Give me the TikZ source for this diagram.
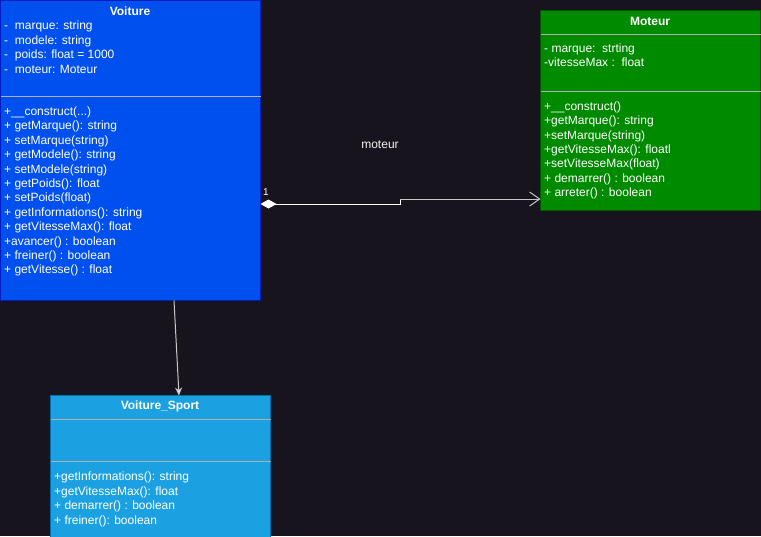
\documentclass[tikz,border=0pt]{standalone}
\usepackage{fontspec}
\setmainfont{Liberation Sans}
\usetikzlibrary{arrows.meta}
\definecolor{bgc}{HTML}{18141D}
\definecolor{vfill}{HTML}{0050EF}
\definecolor{vdraw}{HTML}{001DBC}
\definecolor{mfill}{HTML}{008A00}
\definecolor{mdraw}{HTML}{005700}
\definecolor{sfill}{HTML}{1BA1E2}
\definecolor{sdraw}{HTML}{006EAF}
\definecolor{divc}{HTML}{B0B0B0}
\definecolor{linec}{HTML}{C8C8C8}
\tikzset{
  classbox/.style={draw, line width=1pt, anchor=north west, inner sep=0pt, outer sep=0pt},
  ttl/.style={text=white, font={\fontsize{12}{14.4}\selectfont\bfseries}, inner sep=0pt},
  members/.style={text=white, font={\fontsize{12}{14.4}\selectfont}, align=left, anchor=north west, inner sep=0pt},
  divider/.style={draw=divc, line width=0.8pt},
  conn/.style={line width=1pt},
}
\begin{document}
\begin{tikzpicture}[x=1pt,y=-1pt]
\fill[bgc] (0,0) rectangle (761,536);
\useasboundingbox (0,0) rectangle (761,536);
% Voiture
\node[classbox, draw=vdraw, fill=vfill, minimum width=260pt, minimum height=299.5pt] (voiture) at (0.5,0.5) {};
\node[ttl] (vtitle) at (130,11) {Voiture};
\draw[divider] (voiture.west |- 0,96.5) -- (voiture.east |- 0,96.5);
\node[members] (vattr) at (4,21) {-~~marque: string\\-~~modele: string\\-~~poids: float = 1000\\-~~moteur: Moteur};
\node[members] (vmeth) at (4,106.5) {+\_\_construct(...)\\+ getMarque(): string\\+ setMarque(string)\\+ getModele(): string\\+ setModele(string)\\+ getPoids(): float\\+ setPoids(float)\\+ getInformations(): string\\+ getVitesseMax(): float\\+avancer() : boolean\\+ freiner() : boolean\\+ getVitesse() : float};
% Moteur
\node[classbox, draw=mdraw, fill=mfill, minimum width=220pt, minimum height=200pt] (moteur) at (540.5,10.5) {};
\node[ttl] (mtitle) at (650,21) {Moteur};
\draw[divider] (moteur.west |- 0,34) -- (moteur.east |- 0,34);
\draw[divider] (moteur.west |- 0,91) -- (moteur.east |- 0,91);
\node[members] (mattr) at (544,43.5) {- marque:~~strting\\-vitesseMax :~~float};
\node[members] (mmeth) at (544,101.5) {+\_\_construct()\\+getMarque(): string\\+setMarque(string)\\+getVitesseMax(): floatl\\+setVitesseMax(float)\\+ demarrer() : boolean\\+ arreter() : boolean};
% Voiture_Sport
\node[classbox, draw=sdraw, fill=sfill, minimum width=220pt, minimum height=145pt] (sport) at (50.5,395.5) {};
\node[ttl] (stitle) at (160,406) {Voiture\_Sport};
\draw[divider] (sport.west |- 0,419.5) -- (sport.east |- 0,419.5);
\draw[divider] (sport.west |- 0,461) -- (sport.east |- 0,461);
\node[members] (smeth) at (54,472) {+getInformations(): string\\+getVitesseMax(): float\\+ demarrer() : boolean\\+ freiner(): boolean};
% composition
\coordinate (bend1) at (400,204);
\coordinate (bend2) at (400,199);
\draw[conn, white, {Diamond[length=16pt,width=9pt,fill=white]}-] (voiture.east |- 0,204) -- (bend1) -- (bend2);
\draw[conn, linec, -{Straight Barb[length=10pt,width=14pt,line width=1pt]}] (bend2) -- (moteur.west |- 0,199);
\node[text=white, font={\fontsize{10}{12}\selectfont}, anchor=center] (mult) at (266,192) {1};
\node[text=white!90!gray, font={\fontsize{12}{14.4}\selectfont}] (rolename) at (380,145) {moteur};
% inheritance
\draw[conn, linec, -{Stealth[length=8pt,width=7pt,fill=white]}] (174,300.5) -- (sport.north -| 179,0);
\end{tikzpicture}
\end{document}
